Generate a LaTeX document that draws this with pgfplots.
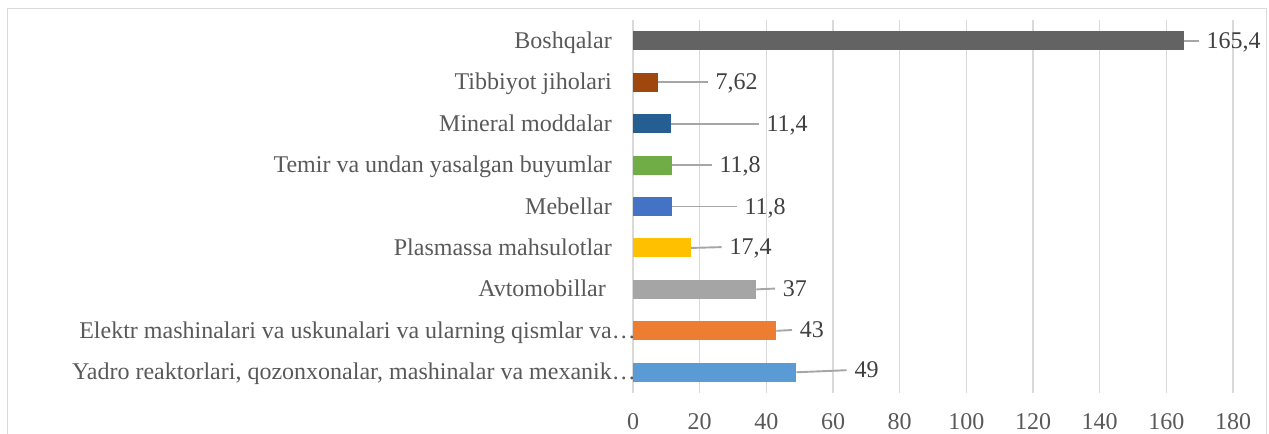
\documentclass[border=0pt]{standalone}
\usepackage{fontspec}
\setmainfont{Liberation Serif}
\usepackage{pgfplots}
\pgfplotsset{compat=1.18}
\definecolor{cYadro}{HTML}{5B9BD5}
\definecolor{cElektr}{HTML}{ED7D31}
\definecolor{cAvto}{HTML}{A5A5A5}
\definecolor{cPlas}{HTML}{FFC000}
\definecolor{cMeb}{HTML}{4472C4}
\definecolor{cTemir}{HTML}{70AD47}
\definecolor{cMin}{HTML}{255E91}
\definecolor{cTib}{HTML}{9E480E}
\definecolor{cBosh}{HTML}{636363}
\definecolor{gridgray}{HTML}{D9D9D9}
\definecolor{leader}{HTML}{A6A6A6}
\definecolor{txt}{HTML}{595959}
\definecolor{lbl}{HTML}{404040}
\tikzset{lab/.style={anchor=base west, inner sep=0pt, xshift=7bp, yshift=-7.5bp, text=lbl, font=\fontsize{24bp}{28bp}\selectfont}}
\pgfplotsset{bars/.style={xbar, bar width=19bp, bar shift=0pt, draw=none}}
\pgfplotsset{ll/.style={draw=leader, line width=1.9bp, mark=none}}
\begin{document}
\begin{tikzpicture}
\useasboundingbox (0,0) rectangle (1269bp,434bp);
\draw[gridgray, line width=1.5bp] (7.5bp,-20bp) rectangle (1266.5bp,425.5bp);
\begin{axis}[
  at={(633bp,41bp)}, anchor=south west,
  scale only axis, width=600bp, height=373bp,
  xmin=0, xmax=180, ymin=-0.5, ymax=8.5,
  xtick={0,20,...,180},
  ytick={0,1,...,8},
  yticklabels={{Yadro reaktorlari, qozonxonalar, mashinalar va mexanik\rlap{…}},
    {Elektr mashinalari va uskunalari va ularning qismlar va\rlap{…}},
    {Avtomobillar\kern6bp},{Plasmassa mahsulotlar},{Mebellar},
    {Temir va undan yasalgan buyumlar},{Mineral moddalar},
    {Tibbiyot jiholari},{Boshqalar}},
  xmajorgrids, ymajorgrids=false,
  grid style={draw=gridgray, line width=1.6bp},
  axis line style={draw=none},
  major tick length=0pt,
  /pgf/number format/assume math mode=true,
  tick label style={font=\fontsize{24bp}{28bp}\selectfont, text=txt},
  xticklabel style={anchor=base, yshift=-36bp},
  yticklabel style={anchor=base east, inner sep=0pt, xshift=-21bp, yshift=-7.5bp},
  every axis plot/.append style={forget plot},
  clip=false,
]
\addplot[bars, fill=cYadro] coordinates {(49,0)};
\addplot[bars, fill=cElektr] coordinates {(43,1)};
\addplot[bars, fill=cAvto] coordinates {(37,2)};
\addplot[bars, fill=cPlas] coordinates {(17.4,3)};
\addplot[bars, fill=cMeb] coordinates {(11.8,4)};
\addplot[bars, fill=cTemir] coordinates {(11.8,5)};
\addplot[bars, fill=cMin] coordinates {(11.4,6)};
\addplot[bars, fill=cTib] coordinates {(7.62,7)};
\addplot[bars, fill=cBosh] coordinates {(165.4,8)};
\addplot[ll] coordinates {(49,0) (64.1,0.05)} node[pos=1, lab] {49};
\addplot[ll] coordinates {(43,1) (47.7,1.02)} node[pos=1, lab] {43};
\addplot[ll] coordinates {(37,2) (42.6,2.02)} node[pos=1, lab] {37};
\addplot[ll] coordinates {(17.4,3) (26.6,3.02)} node[pos=1, lab] {17,4};
\addplot[ll] coordinates {(11.8,4) (31.1,4)} node[pos=1, lab] {11,8};
\addplot[ll] coordinates {(11.8,5) (23.6,5)} node[pos=1, lab] {11,8};
\addplot[ll] coordinates {(11.4,6) (37.7,6)} node[pos=1, lab] {11,4};
\addplot[ll] coordinates {(7.62,7) (22.4,7)} node[pos=1, lab] {7,62};
\addplot[ll] coordinates {(165.4,8) (169.7,8)} node[pos=1, lab] {165,4};
\end{axis}
\end{tikzpicture}
\end{document}
